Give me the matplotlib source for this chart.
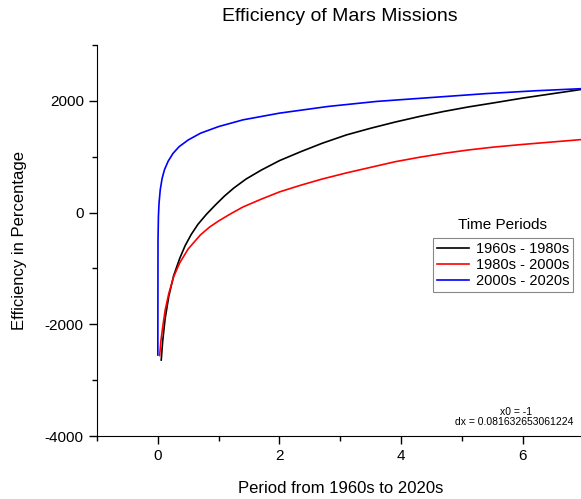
import matplotlib
matplotlib.use('Agg')
import matplotlib.pyplot as plt
from matplotlib.ticker import MultipleLocator

plt.rcParams['font.family'] = ['Liberation Sans', 'DejaVu Sans']
plt.rcParams['axes.unicode_minus'] = False

# Dữ liệu (ước lượng)
x_6080 = [0.056, 0.08, 0.12, 0.18, 0.26, 0.36, 0.45, 0.55, 0.66, 0.8, 0.95, 1.1, 1.25, 1.45, 1.7, 2.0,
          2.35, 2.7, 3.1, 3.5, 3.9, 4.3, 4.7, 5.1, 5.5, 6.0, 6.5, 7.0]
y_6080 = [-2640, -2300, -1900, -1500, -1130, -820, -590, -390, -210, -30, 140, 300, 440, 600, 760, 930,
          1090, 1240, 1390, 1510, 1620, 1720, 1810, 1890, 1960, 2050, 2130, 2210]

x_8000 = [0.03, 0.05, 0.08, 0.12, 0.18, 0.26, 0.36, 0.5, 0.7, 0.85, 1.0, 1.2, 1.4, 1.7, 2.0, 2.35,
          2.7, 3.1, 3.5, 3.9, 4.3, 4.7, 5.1, 5.5, 6.0, 6.5, 7.0]
y_8000 = [-2560, -2300, -2050, -1750, -1450, -1150, -900, -650, -400, -260, -150, -20, 100, 240, 370, 490,
          600, 710, 810, 910, 990, 1060, 1120, 1170, 1220, 1265, 1310]

x_0020 = [0.0, 0.003, 0.01, 0.02, 0.04, 0.07, 0.11, 0.17, 0.25, 0.35, 0.5, 0.7, 1.0, 1.4, 2.0, 2.8,
          3.6, 4.5, 5.4, 6.2, 7.0]
y_0020 = [-2550, -500, -60, 170, 410, 610, 770, 920, 1060, 1180, 1300, 1420, 1540, 1660, 1780, 1900,
          1990, 2060, 2130, 2180, 2220]

labels = ['1960s - 1980s', '1980s - 2000s', '2000s - 2020s']
colors = ['black', 'red', 'blue']

fig = plt.figure(figsize=(5.81, 4.99), dpi=100)
ax = fig.add_axes([97 / 581, 63 / 499, 486.6 / 581, 391 / 499])

for xs, ys, lab, c in zip([x_6080, x_8000, x_0020], [y_6080, y_8000, y_0020], labels, colors):
    ax.plot(xs, ys, color=c, lw=1.2, label=lab)

ax.set_xlim(-1, 7)
ax.set_ylim(-4000, 3000)
ax.xaxis.set_major_locator(MultipleLocator(2))
ax.xaxis.set_minor_locator(MultipleLocator(1))
ax.yaxis.set_major_locator(MultipleLocator(2000))
ax.yaxis.set_minor_locator(MultipleLocator(1000))
ax.tick_params(which='major', direction='out', length=6, width=1, labelsize=11)
ax.tick_params(which='minor', direction='out', length=3.5, width=1)
ax.spines['top'].set_visible(False)
ax.spines['right'].set_visible(False)

ax.set_title('Efficiency of Mars Missions', fontsize=14, pad=17)
ax.set_xlabel('Period from 1960s to 2020s', fontsize=12, labelpad=13)
ax.set_ylabel('Efficiency in Percentage', fontsize=12, labelpad=13)

leg = ax.legend(loc='upper left', bbox_to_anchor=(433 / 581, 1 - 238 / 499),
                bbox_transform=fig.transFigure, borderaxespad=0, fontsize=10.5,
                fancybox=False, framealpha=1, edgecolor='#888888',
                handlelength=2.2, handletextpad=0.5, labelspacing=0.15, borderpad=0.25)
leg.get_frame().set_linewidth(0.8)
fig.text(503 / 581, 1 - 225 / 499, 'Time Periods', fontsize=11, ha='center', va='center')

fig.text(516 / 581, 1 - 412 / 499, 'x0 = -1', fontsize=7.5, ha='center', va='center')
fig.text(514 / 581, 1 - 422 / 499, 'dx = 0.081632653061224', fontsize=7.5, ha='center', va='center')

fig.savefig('out.png', dpi=100)
